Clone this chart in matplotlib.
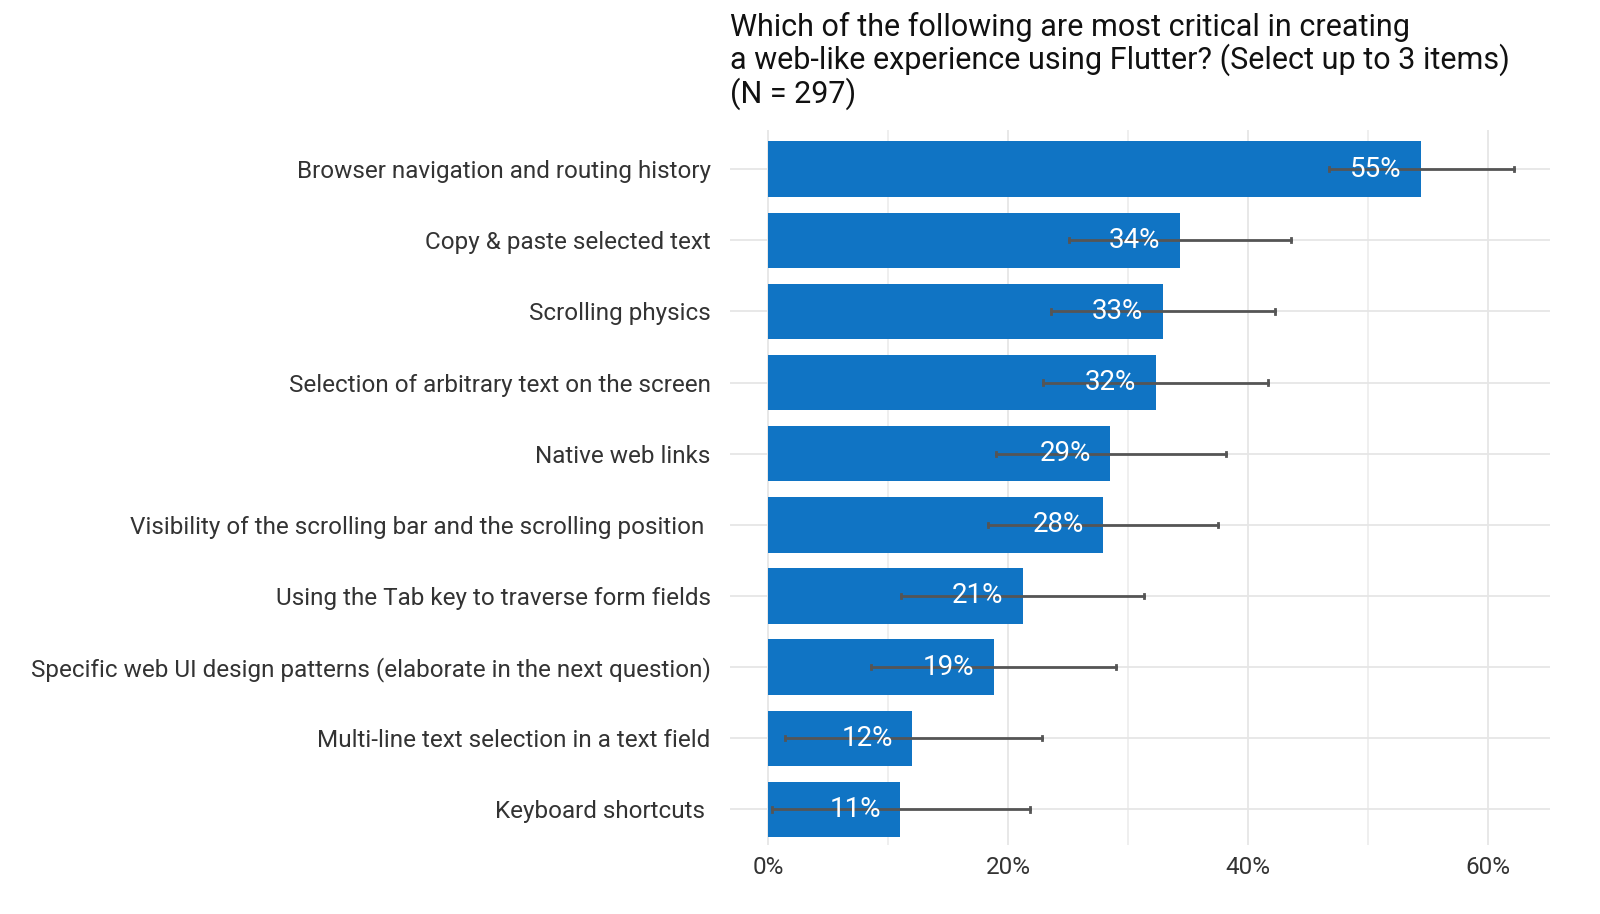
import matplotlib
matplotlib.use("Agg")
import matplotlib.pyplot as plt
from matplotlib.ticker import MultipleLocator, FuncFormatter

categories = ["Browser navigation and routing history", "Copy & paste selected text", "Scrolling physics",
              "Selection of arbitrary text on the screen", "Native web links",
              "Visibility of the scrolling bar and the scrolling position ",
              "Using the Tab key to traverse form fields",
              "Specific web UI design patterns (elaborate in the next question)",
              "Multi-line text selection in a text field", "Keyboard shortcuts "]
values = [54.4, 34.3, 32.9, 32.3, 28.5, 27.9, 21.2, 18.8, 12.0, 11.0]
err_low = [46.8, 25.1, 23.6, 22.9, 19.0, 18.3, 11.1, 8.6, 1.4, 0.3]
err_high = [62.2, 43.6, 42.3, 41.7, 38.2, 37.5, 31.3, 29.0, 22.8, 21.8]
labels = ["55%", "34%", "33%", "32%", "29%", "28%", "21%", "19%", "12%", "11%"]

plt.rcParams['font.family'] = ['Roboto', 'DejaVu Sans']
fig = plt.figure(figsize=(16, 9.14), dpi=100)
ax = fig.add_axes([730/1600, 1-845/914, 820/1600, (845-130)/914])
y = list(range(len(categories)))
ax.barh(y, values, height=0.78, color="#1074C4", zorder=2)
for i in y:
    ax.plot([err_low[i], err_high[i]], [i, i], color="#555555", lw=2, zorder=3)
    for xx in (err_low[i], err_high[i]):
        ax.plot([xx, xx], [i-0.03, i+0.03], color="#555555", lw=2, zorder=3)
    ax.text(values[i]-1.6, i, labels[i], ha="right", va="center", color="white", fontsize=20, zorder=4)
ax.set_yticks(y)
ax.set_yticklabels(categories, fontsize=17.5, color="#333333")
ax.invert_yaxis()
ax.set_ylim(9.5, -0.55)
ax.set_xlim(-3.2, 65.2)
ax.xaxis.set_major_locator(MultipleLocator(20))
ax.xaxis.set_minor_locator(MultipleLocator(10))
ax.xaxis.set_major_formatter(FuncFormatter(lambda v, p: f"{v:.0f}%"))
ax.tick_params(axis='x', labelsize=17.5, colors="#333333", length=0, which='both', pad=8)
ax.tick_params(axis='y', length=0, pad=14)
ax.grid(axis='x', which='major', color="#e6e6e6", lw=1.3, zorder=0)
ax.grid(axis='x', which='minor', color="#ececec", lw=1.2, zorder=0)
ax.grid(axis='y', color="#e6e6e6", lw=1.3, zorder=0)
for s in ax.spines.values():
    s.set_visible(False)
fig.text(730/1600, 1-12/914, "Which of the following are most critical in creating\na web-like experience using Flutter? (Select up to 3 items)\n(N = 297)",
         ha="left", va="top", fontsize=22, color="#111111", linespacing=1.05)
fig.savefig("out.png", dpi=100)
